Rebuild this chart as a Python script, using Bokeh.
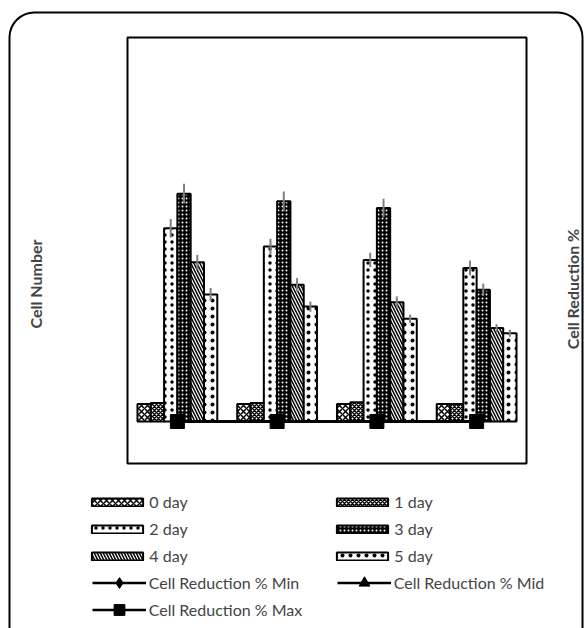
import math
from bokeh.plotting import figure
from bokeh.models import Range1d, Legend, LegendItem, Label, BoxAnnotation
from bokeh.embed import file_html
from bokeh.resources import INLINE

groups = [1, 2, 3, 4]
days = ["0 day", "1 day", "2 day", "3 day", "4 day", "5 day"]

day0 = [0.55, 0.55, 0.55, 0.55]
day1 = [0.58, 0.58, 0.60, 0.55]
day2 = [6.04, 5.47, 5.05, 4.80]
day3 = [7.12, 6.88, 6.67, 4.12]
day4 = [4.98, 4.27, 3.73, 2.92]
day5 = [3.97, 3.59, 3.21, 2.76]

err0 = [0.0, 0.0, 0.0, 0.0]
err1 = [0.0, 0.0, 0.0, 0.0]
err2 = [0.29, 0.24, 0.22, 0.23]
err3 = [0.31, 0.31, 0.29, 0.19]
err4 = [0.23, 0.21, 0.18, 0.12]
err5 = [0.20, 0.16, 0.13, 0.11]

red_min = [0, 0, 0, 0]
red_mid = [0, 0, 0, 0]
red_max = [0, 0, 0, 0]

series = [day0, day1, day2, day3, day4, day5]
errors = [err0, err1, err2, err3, err4, err5]

styles = [
    dict(fill_color="white", hatch_color="black", hatch_pattern="x", hatch_scale=6, hatch_weight=1.5),
    dict(fill_color="white", hatch_color="black", hatch_pattern="x", hatch_scale=4, hatch_weight=1.5),
    dict(fill_color="white", hatch_color="black", hatch_pattern=".", hatch_scale=7, hatch_weight=2.5),
    dict(fill_color="black", hatch_color="white", hatch_pattern=".", hatch_scale=4, hatch_weight=1),
    dict(fill_color="white", hatch_color="black", hatch_pattern="\\", hatch_scale=6, hatch_weight=1.5),
    dict(fill_color="white", hatch_color="black", hatch_pattern=".", hatch_scale=8, hatch_weight=0.3),
]

# layout (pixels) of the inner plot area inside the 584x628 canvas
W, H = 584, 628
PL, PR, PT, PB = 127, 526, 37, 463
X0, X1 = 0.5, 4.5          # value range across the plot area
Y0, Y1 = -1.3125, 12.0     # cell-number range across the plot area
PCT0, PCT1 = -13.125, 120.0

kx = (PR - PL) / (X1 - X0)
ky = (PB - PT) / (Y1 - Y0)
def px2x(px):
    return X0 + (px - PL) / kx
def px2y(py):
    return Y1 - (py - PT) / ky
kp = (PB - PT) / (PCT1 - PCT0)

p = figure(width=W, height=H, output_backend="svg", toolbar_location=None,
           x_range=Range1d(px2x(0), px2x(W)), y_range=Range1d(px2y(H), px2y(0)),
           x_axis_location=None, y_axis_location=None,
           min_border_left=0, min_border_right=0, min_border_top=0, min_border_bottom=0)
p.xgrid.visible = False
p.ygrid.visible = False
p.outline_line_color = None
p.extra_y_ranges = {"pct": Range1d(PCT1 - (H - PT) / kp, PCT1 + PT / kp)}

# plot-area border
p.add_layout(BoxAnnotation(left=X0, right=X1, bottom=Y0, top=Y1, fill_color=None, fill_alpha=0,
                           line_color="black", line_alpha=1, line_width=2, level="underlay"))
# outer rounded chart border
p.add_layout(BoxAnnotation(left=px2x(9), right=px2x(582), top=px2y(12), bottom=px2y(660),
                           fill_color=None, fill_alpha=0, line_color="black", line_alpha=1, line_width=2,
                           border_radius=25, level="underlay"))

bw = 0.8 / 6
bar_renderers = []
for j, (vals, st) in enumerate(zip(series, styles)):
    xs = [g + (j - 2.5) * bw for g in groups]
    r = p.vbar(x=xs, top=vals, bottom=0, width=bw, line_color="black", line_width=2, **st)
    bar_renderers.append(r)

for j, (vals, errs) in enumerate(zip(series, errors)):
    xs = [g + (j - 2.5) * bw for g in groups]
    y0 = [v - e for v, e in zip(vals, errs)]
    y1 = [v + e for v, e in zip(vals, errs)]
    if any(e > 0 for e in errs):
        p.segment(x0=xs, x1=xs, y0=y0, y1=y1, line_color="#7f7f7f", line_width=2)

line_items = {}
for name, vals, marker, size in [("Cell Reduction % Min", red_min, "diamond", 14),
                                  ("Cell Reduction % Mid", red_mid, "triangle", 12),
                                  ("Cell Reduction % Max", red_max, "square", 14)]:
    lr = p.line(groups, vals, line_color="black", line_width=2.5, y_range_name="pct")
    sr = p.scatter(groups, vals, marker=marker, size=size, fill_color="black", line_color="black",
                   y_range_name="pct")
    line_items[name] = LegendItem(label=name, renderers=[lr, sr])

order = [0, 2, 4, 1, 3, 5]
bar_items = [LegendItem(label=days[k], renderers=[bar_renderers[k]]) for k in order]
line_order = ["Cell Reduction % Min", "Cell Reduction % Max", "Cell Reduction % Mid"]

FONT = "Lato"
leg1 = Legend(items=bar_items, ncols=2, glyph_width=64, glyph_height=10, label_height=20,
              label_standoff=0, label_width=174, spacing=7, padding=0, margin=0,
              border_line_color=None, background_fill_alpha=0,
              label_text_font=FONT, label_text_font_size="16px",
              location=(85.3, H - (491.7 + 74)))
leg2 = Legend(items=[line_items[n] for n in line_order], ncols=2, glyph_width=54, glyph_height=27,
              label_height=27, label_standoff=3, label_width=188, spacing=0, padding=0, margin=0,
              border_line_color=None, background_fill_alpha=0,
              label_text_font=FONT, label_text_font_size="16px",
              location=(91.7, H - (568.8 + 54)))
p.add_layout(leg1)
p.add_layout(leg2)

p.add_layout(Label(x=px2x(34.5), y=px2y(283.5),
                   text="Cell Number", angle=math.pi / 2, text_align="center", text_baseline="middle",
                   text_font=FONT, text_font_style="bold", text_font_size="16px"))
p.add_layout(Label(x=px2x(571.5), y=px2y(288.5),
                   text="Cell Reduction %", angle=math.pi / 2, text_align="center", text_baseline="middle",
                   text_font=FONT, text_font_style="bold", text_font_size="16px"))

open("out.html", "w").write(file_html(p, INLINE))
